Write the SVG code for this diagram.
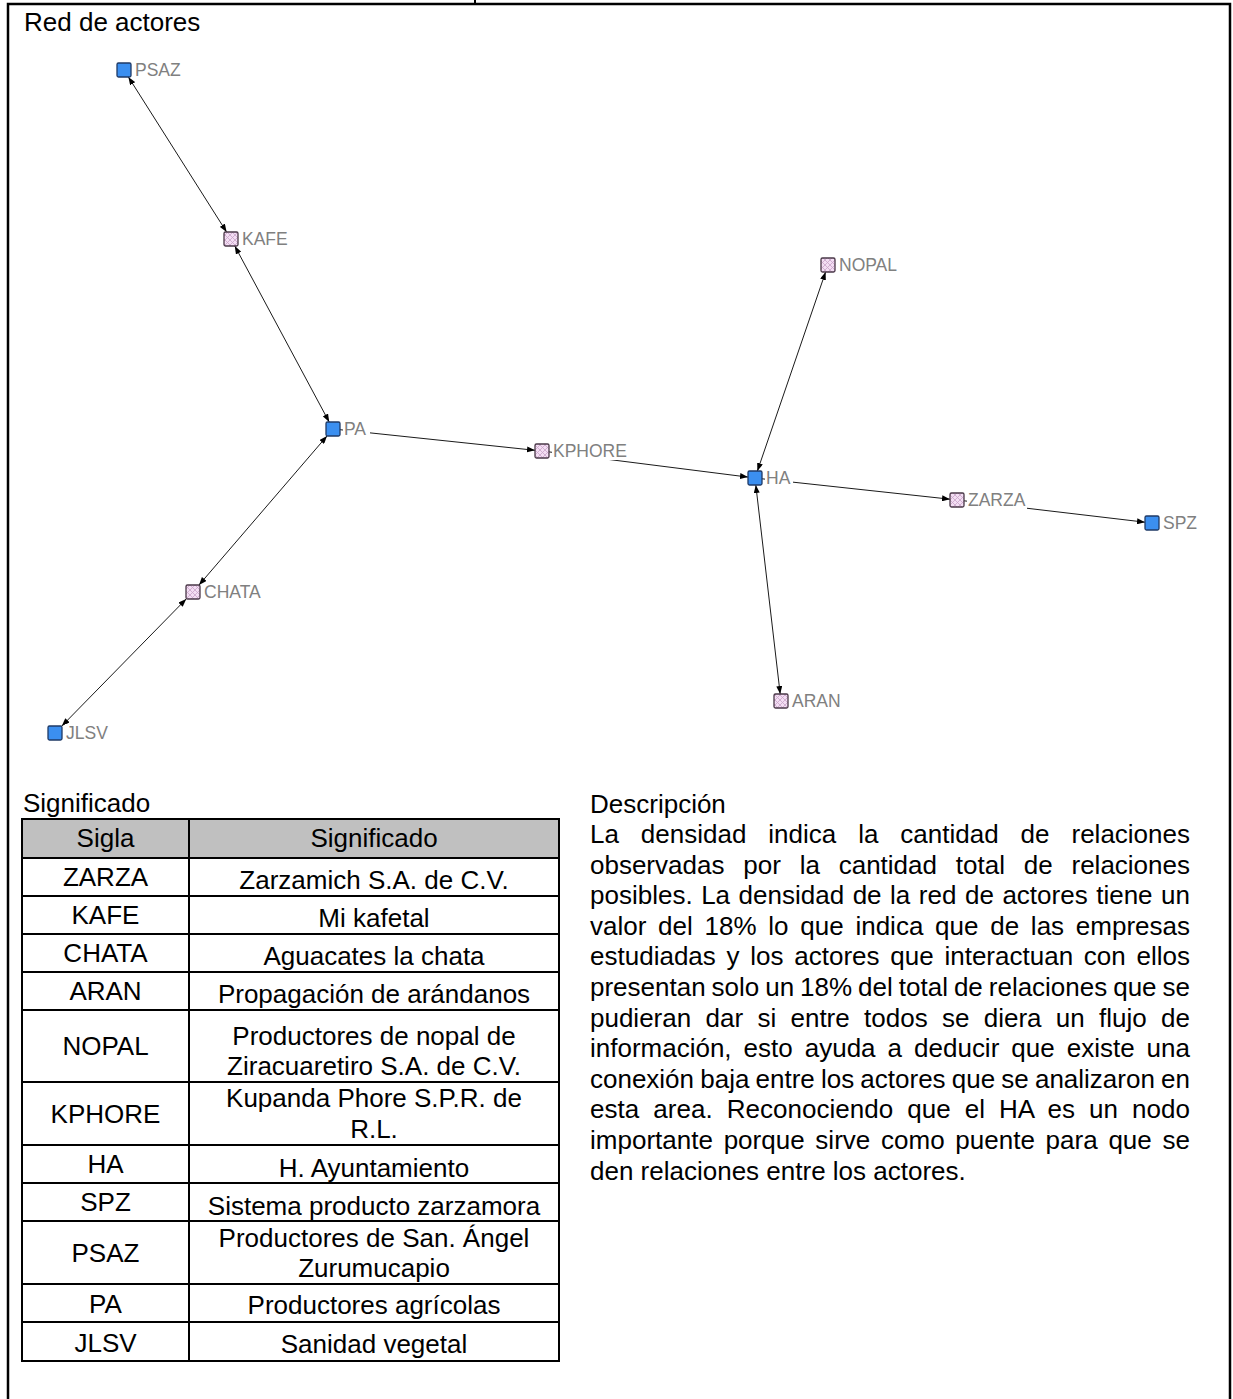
<svg xmlns="http://www.w3.org/2000/svg" width="1233" height="1399" viewBox="0 0 1233 1399">
<style>
.frame{fill:none;stroke:#000;stroke-width:2.5}
.t{font-family:"Liberation Sans",Arial,sans-serif;font-size:26px;fill:#000}
.c{text-anchor:middle}
.lbl{font-family:"Liberation Sans",Arial,sans-serif;font-size:17.5px;fill:#808080}
.lblbg{fill:#fff}
.edge{stroke:#1a1a1a;stroke-width:1;fill:none}
.uni{marker-end:url(#arrow)}
.bi{marker-start:url(#arrow);marker-end:url(#arrow)}
.blue{fill:#3b8ff0;stroke:#1f3a66;stroke-width:1.3}
.pink{fill:url(#hatch);stroke:#4a3848;stroke-width:1.3}
.cell{fill:none;stroke:#000;stroke-width:2}
</style>
<defs>
<marker id="arrow" viewBox="0 0 8 6" refX="8" refY="3" markerWidth="8" markerHeight="6" markerUnits="userSpaceOnUse" orient="auto-start-reverse">
<path d="M0,0 L8,3 L0,6 z" fill="#000"/>
</marker>
<pattern id="hatch" patternUnits="userSpaceOnUse" width="5" height="5">
<rect width="5" height="5" fill="#f3def3"/>
<path d="M0,0 L5,5 M5,0 L0,5" stroke="#c9a3c9" stroke-width="0.8"/>
</pattern>
</defs>
<rect width="1233" height="1399" fill="#fff"/>
<path class="frame" d="M8,1399 V4 H1230 V1399"/>
<line x1="475" y1="0" x2="475" y2="4" stroke="#000" stroke-width="2"/>
<text class="t" x="24" y="31">Red de actores</text>

<g id="connectors">
<line class="edge bi" x1="128.4" y1="77" x2="226.6" y2="232"/>
<line class="edge bi" x1="234.8" y1="246" x2="329.2" y2="422"/>
<line class="edge bi" x1="327" y1="436" x2="199" y2="585"/>
<line class="edge bi" x1="186.2" y1="599" x2="61.8" y2="726"/>
<line class="edge uni" x1="340" y1="429.7" x2="535" y2="450.3"/>
<line class="edge uni" x1="549" y1="451.9" x2="748" y2="477.1"/>
<line class="edge uni" x1="762" y1="478.8" x2="950" y2="499.2"/>
<line class="edge uni" x1="964" y1="500.8" x2="1145" y2="522.2"/>
<line class="edge bi" x1="757.4" y1="471" x2="825.6" y2="272"/>
<line class="edge bi" x1="755.8" y1="485" x2="780.2" y2="694"/>
</g>

<g id="node-PSAZ"><rect class="blue" x="117" y="63" width="14" height="14" rx="1.5"/><rect class="lblbg" x="134" y="61" width="48" height="18"/><text class="lbl" x="135" y="76">PSAZ</text></g>
<g id="node-KAFE"><rect class="pink" x="224" y="232" width="14" height="14" rx="1.5"/><rect class="lblbg" x="241" y="230" width="48" height="18"/><text class="lbl" x="242" y="245">KAFE</text></g>
<g id="node-PA"><rect class="blue" x="326" y="422" width="14" height="14" rx="1.5"/><rect class="lblbg" x="343" y="420" width="27" height="18"/><text class="lbl" x="344" y="435">PA</text></g>
<g id="node-KPHORE"><rect class="pink" x="535" y="444" width="14" height="14" rx="1.5"/><rect class="lblbg" x="552" y="442" width="77" height="18"/><text class="lbl" x="553" y="457">KPHORE</text></g>
<g id="node-HA"><rect class="blue" x="748" y="471" width="14" height="14" rx="1.5"/><rect class="lblbg" x="765" y="469" width="28" height="18"/><text class="lbl" x="766" y="484">HA</text></g>
<g id="node-NOPAL"><rect class="pink" x="821" y="258" width="14" height="14" rx="1.5"/><rect class="lblbg" x="838" y="256" width="62" height="18"/><text class="lbl" x="839" y="271">NOPAL</text></g>
<g id="node-ZARZA"><rect class="pink" x="950" y="493" width="14" height="14" rx="1.5"/><rect class="lblbg" x="967" y="491" width="60" height="18"/><text class="lbl" x="968" y="506">ZARZA</text></g>
<g id="node-SPZ"><rect class="blue" x="1145" y="516" width="14" height="14" rx="1.5"/><rect class="lblbg" x="1162" y="514" width="37" height="18"/><text class="lbl" x="1163" y="529">SPZ</text></g>
<g id="node-CHATA"><rect class="pink" x="186" y="585" width="14" height="14" rx="1.5"/><rect class="lblbg" x="203" y="583" width="62" height="18"/><text class="lbl" x="204" y="598">CHATA</text></g>
<g id="node-JLSV"><rect class="blue" x="48" y="726" width="14" height="14" rx="1.5"/><rect class="lblbg" x="65" y="724" width="45" height="18"/><text class="lbl" x="66" y="739">JLSV</text></g>
<g id="node-ARAN"><rect class="pink" x="774" y="694" width="14" height="14" rx="1.5"/><rect class="lblbg" x="791" y="692" width="51" height="18"/><text class="lbl" x="792" y="707">ARAN</text></g>

<g id="table">
<text class="t" x="23" y="812">Significado</text>
<rect x="22" y="819" width="537" height="39" fill="#c0c0c0"/>
<rect class="cell" x="22" y="819" width="537" height="542"/>
<path class="cell" d="M189,819 V1361 M22,858 H559 M22,896 H559 M22,934 H559 M22,972 H559 M22,1010 H559 M22,1082 H559 M22,1145 H559 M22,1183 H559 M22,1221 H559 M22,1284 H559 M22,1322 H559"/>
<g class="t c">
<text x="105.5" y="847">Sigla</text><text x="374" y="847">Significado</text>
<text x="105.5" y="886">ZARZA</text><text x="374" y="889">Zarzamich S.A. de C.V.</text>
<text x="105.5" y="924">KAFE</text><text x="374" y="927">Mi kafetal</text>
<text x="105.5" y="962">CHATA</text><text x="374" y="965">Aguacates la chata</text>
<text x="105.5" y="1000">ARAN</text><text x="374" y="1003">Propagación de arándanos</text>
<text x="105.5" y="1055">NOPAL</text><text x="374" y="1045">Productores de nopal de</text><text x="374" y="1075">Ziracuaretiro S.A. de C.V.</text>
<text x="105.5" y="1123">KPHORE</text><text x="374" y="1107">Kupanda Phore S.P.R. de</text><text x="374" y="1138">R.L.</text>
<text x="105.5" y="1173">HA</text><text x="374" y="1177">H. Ayuntamiento</text>
<text x="105.5" y="1211">SPZ</text><text x="374" y="1215">Sistema producto zarzamora</text>
<text x="105.5" y="1262">PSAZ</text><text x="374" y="1247">Productores de San. Ángel</text><text x="374" y="1277">Zurumucapio</text>
<text x="105.5" y="1313">PA</text><text x="374" y="1314">Productores agrícolas</text>
<text x="105.5" y="1352">JLSV</text><text x="374" y="1353">Sanidad vegetal</text>
</g>
</g>

<g id="description" class="t">
<text x="590" y="813">Descripción</text>
<text x="590" y="843" word-spacing="14.7" textLength="600" lengthAdjust="spacing">La densidad indica la cantidad de relaciones</text>
<text x="590" y="873.6" word-spacing="11.6" textLength="600" lengthAdjust="spacing">observadas por la cantidad total de relaciones</text>
<text x="590" y="904.2" word-spacing="1.3" textLength="600" lengthAdjust="spacing">posibles. La densidad de la red de actores tiene un</text>
<text x="590" y="934.8" word-spacing="4.5" textLength="600" lengthAdjust="spacing">valor del 18% lo que indica que de las empresas</text>
<text x="590" y="965.4" word-spacing="3.5" textLength="600" lengthAdjust="spacing">estudiadas y los actores que interactuan con ellos</text>
<text x="590" y="996" word-spacing="-1.25" textLength="600" lengthAdjust="spacing">presentan solo un 18% del total de relaciones que se</text>
<text x="590" y="1026.6" word-spacing="7.1" textLength="600" lengthAdjust="spacing">pudieran dar si entre todos se diera un flujo de</text>
<text x="590" y="1057.2" word-spacing="4.8" textLength="600" lengthAdjust="spacing">información, esto ayuda a deducir que existe una</text>
<text x="590" y="1087.8" word-spacing="-1.05" textLength="600" lengthAdjust="spacing">conexión baja entre los actores que se analizaron en</text>
<text x="590" y="1118.4" word-spacing="6.7" textLength="600" lengthAdjust="spacing">esta area. Reconociendo que el HA es un nodo</text>
<text x="590" y="1149" word-spacing="3.5" textLength="600" lengthAdjust="spacing">importante porque sirve como puente para que se</text>
<text x="590" y="1179.6">den relaciones entre los actores.</text>
</g>
</svg>
